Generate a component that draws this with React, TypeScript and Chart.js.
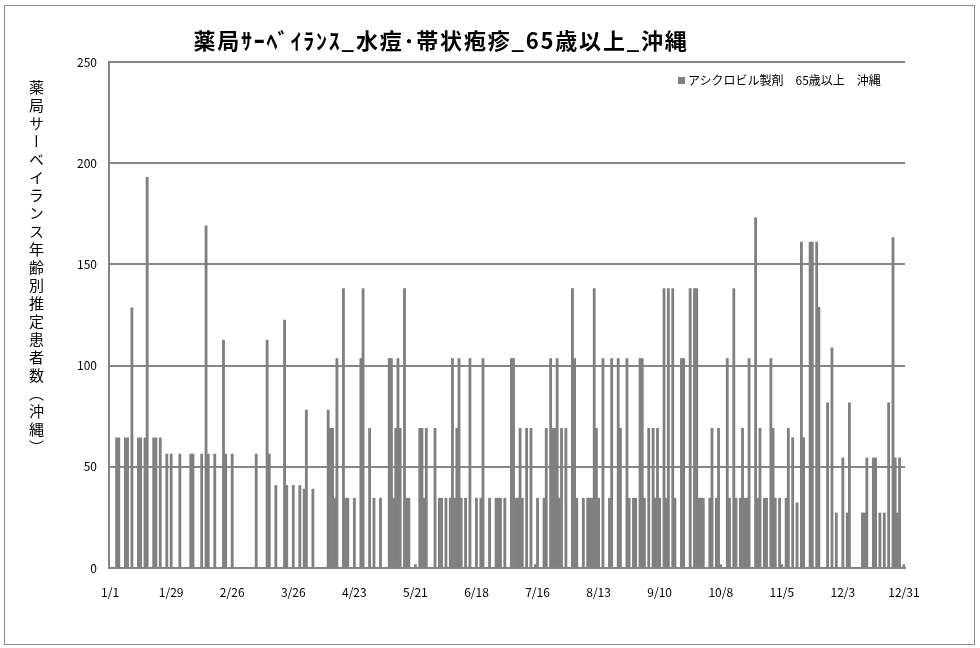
import React, { useEffect, useRef } from "react";
import { Chart, registerables } from "chart.js";

Chart.register(...registerables);

// ---- data ----
const titleText = "薬局ｻｰﾍﾞｲﾗﾝｽ_水痘･帯状疱疹_65歳以上_沖縄";
const yAxisTitle = "薬局サーベイランス年齢別推定患者数（沖縄）";
const seriesName = "アシクロビル製剤　65歳以上　沖縄";

const monthLengths = [31, 28, 31, 30, 31, 30, 31, 31, 30, 31, 30, 31];
const tickLabels = ["1/1", "1/29", "2/26", "3/26", "4/23", "5/21", "6/18", "7/16", "8/13", "9/10", "10/8", "11/5", "12/3", "12/31"];
const yTicks = [0, 50, 100, 150, 200, 250];

// day of year (0 = 1/1) that has a non-zero value, and its value
const barDays = [
  3, 4, 7, 8, 10, 13, 14, 16, 17, 20, 21, 23,
  26, 28, 32, 37, 38, 42, 44, 45, 48, 52, 53, 56, 67, 72, 73,
  76, 80, 81, 84, 87,
  89, 90, 93, 100,
  101, 102, 103, 104, 107, 108, 109, 112, 115, 116, 119, 121, 124, 128, 129, 130, 131, 132, 133, 135, 136, 137, 140,
  142, 143, 144, 145, 149, 151, 152, 154, 156, 157, 158, 159, 160, 161, 163, 165, 168, 170, 171, 174, 177, 178, 179, 181,
  184, 185, 186, 187, 188, 189, 191, 193, 195, 196, 199, 200, 202, 203, 204, 205, 206, 207, 209, 212, 213, 214, 217, 219,
  220, 221, 222, 223, 224, 226, 229, 230, 233, 234, 237, 238, 240, 241, 243, 244, 245, 247, 249, 250, 251, 252, 254, 255, 256, 258, 259,
  262, 263, 266, 268, 269, 270, 271, 272, 275, 276, 278, 279, 280, 283, 284, 286, 287, 289, 290, 291, 292, 293,
  296, 297, 298, 300, 301, 303, 304, 305, 307, 308, 310, 311,
  313, 315, 317, 318, 321, 322, 324, 325,
  329, 331, 333, 336, 338, 339, 345, 346, 347, 350, 351, 353, 355, 357, 359, 360, 361, 362, 364,
];
const barValues = [
  64.3, 64.3, 64.3, 64.3, 128.6, 64.3, 64.3, 64.3, 193, 64.3, 64.3, 64.3,
  56.3, 56.3, 56.3, 56.3, 56.3, 56.3, 169, 56.3, 56.3, 112.6, 56.3, 56.3, 56.3, 112.6, 56.3,
  40.8, 122.5, 40.8, 40.8, 40.8,
  39, 78, 39, 78,
  69, 69, 34.5, 103.5, 138, 34.5, 34.5, 34.5, 103.5, 138, 69, 34.5, 34.5, 103.5, 103.5, 34.5, 69, 103.5, 69, 138, 34.5, 34.5, 1.7,
  69, 69, 34.5, 69, 69, 34.5, 34.5, 34.5, 34.5, 103.5, 34.5, 69, 103.5, 34.5, 34.5, 103.5, 34.5, 34.5, 103.5, 34.5, 34.5, 34.5, 34.5, 34.5,
  103.5, 103.5, 34.5, 34.5, 69, 34.5, 69, 69, 1.7, 34.5, 34.5, 69, 103.5, 69, 69, 103.5, 34.5, 69, 69, 138, 103.5, 34.5, 34.5, 34.5,
  34.5, 34.5, 138, 69, 34.5, 103.5, 34.5, 103.5, 103.5, 69, 103.5, 34.5, 34.5, 34.5, 103.5, 103.5, 34.5, 69, 69, 34.5, 69, 34.5, 138, 34.5, 138, 138, 34.5,
  103.5, 103.5, 138, 138, 138, 34.5, 34.5, 34.5, 34.5, 69, 34.5, 69, 1.7, 103.5, 34.5, 138, 34.5, 34.5, 69, 34.5, 34.5, 103.5,
  173, 34.5, 69, 34.5, 34.5, 103.5, 69, 34.5, 34.5, 1.7, 34.5, 69,
  64.4, 32.2, 161, 64.4, 161, 161, 161, 128.8,
  81.6, 108.8, 27.2, 54.4, 27.2, 81.6, 27.2, 27.2, 54.4, 54.4, 54.4, 27.2, 27.2, 81.6, 163.3, 54.4, 27.2, 54.4, 1.7,
];

const FONT = "'Noto Sans CJK JP', 'Noto Sans', sans-serif";

export default function App() {
  const ref = useRef<HTMLCanvasElement | null>(null);

  useEffect(() => {
    const categories: string[] = [];
    monthLengths.forEach((n, m) => {
      for (let d = 1; d <= n; d++) categories.push(`${m + 1}/${d}`);
    });
    const values: number[] = categories.map(() => 0);
    barDays.forEach((d, i) => {
      values[d] = barValues[i];
    });

    const chart = new Chart(ref.current as HTMLCanvasElement, {
      type: "bar",
      data: {
        labels: categories,
        datasets: [
          {
            label: seriesName,
            data: values,
            backgroundColor: "#808080",
            borderWidth: 0,
            barPercentage: 1,
            categoryPercentage: 1,
          },
        ],
      },
      options: {
        responsive: false,
        animation: false,
        layout: { padding: { left: 0, top: 62, right: 75, bottom: 40 } },
        plugins: {
          legend: { display: false },
          title: { display: false },
          tooltip: { enabled: false },
        },
        scales: {
          x: {
            grid: { display: false, drawTicks: false },
            border: { display: true, color: "#868686", width: 2 },
            ticks: {
              autoSkip: false,
              maxRotation: 0,
              minRotation: 0,
              padding: 17,
              color: "#000",
              font: { family: FONT, size: 12 },
              callback: function (_v: any, idx: number) {
                const lab = categories[idx];
                return tickLabels.includes(lab) && idx % 28 === 0 ? lab : "";
              },
            },
            afterFit: (s: any) => {
              s.height = 40;
            },
          },
          y: {
            min: 0,
            max: 250,
            afterBuildTicks: (s: any) => {
              s.ticks = yTicks.map((v) => ({ value: v }));
            },
            grid: { color: "#868686", lineWidth: 2, drawTicks: false },
            border: { display: true, color: "#868686", width: 2 },
            ticks: {
              padding: 12,
              color: "#000",
              font: { family: FONT, size: 12 },
            },
            afterFit: (s: any) => {
              s.width = 109;
            },
          },
        },
      },
    });
    return () => chart.destroy();
  }, []);

  return (
    <div style={{ position: "absolute", left: 0, top: 0, width: 980, height: 648, background: "#fff", overflow: "hidden" }}>
      <div style={{ position: "absolute", left: 4, top: 5, width: 969, height: 638, border: "1px solid #8c8c8c" }} />
      <canvas ref={ref} width={980} height={648} style={{ position: "absolute", left: 0, top: 0, width: 980, height: 648 }} />
      <div
        style={{
          position: "absolute",
          left: 0,
          width: 882,
          top: 24,
          textAlign: "center",
          fontFamily: FONT,
          fontWeight: "bold",
          fontSize: 22,
          lineHeight: "30px",
          letterSpacing: "1.8px",
          color: "#000",
          whiteSpace: "nowrap",
        }}
      >
        {titleText}
      </div>
      <div
        style={{
          position: "absolute",
          left: 26,
          top: 80,
          writingMode: "vertical-rl",
          textOrientation: "mixed",
          fontFamily: FONT,
          fontSize: 15,
          lineHeight: "20px",
          letterSpacing: "3px",
          color: "#000",
          whiteSpace: "nowrap",
        }}
      >
        {yAxisTitle}
      </div>
      <div
        style={{
          position: "absolute",
          left: 678,
          top: 71,
          fontFamily: FONT,
          fontSize: 12,
          lineHeight: "18px",
          color: "#000",
          whiteSpace: "nowrap",
          display: "flex",
          alignItems: "center",
        }}
      >
        <span style={{ display: "inline-block", width: 7, height: 7, background: "#808080", marginRight: 3 }} />
        <span>{seriesName}</span>
      </div>
    </div>
  );
}
